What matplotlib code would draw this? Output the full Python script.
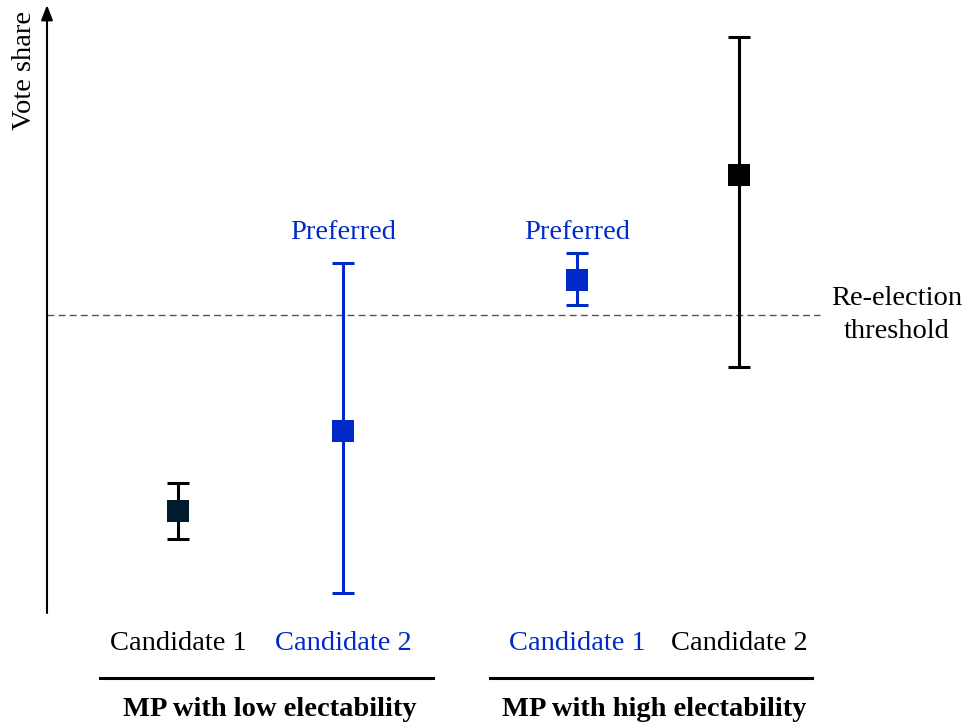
import matplotlib
matplotlib.use("Agg")
import matplotlib.pyplot as plt
from matplotlib.lines import Line2D

plt.rcParams['font.family'] = ['Liberation Serif', 'DejaVu Serif']

# Data (arbitrary vote-share units; threshold at 50)
positions = [1.0, 2.0, 3.42, 4.4]
candidates = ["Candidate 1", "Candidate 2", "Candidate 1", "Candidate 2"]
vote_share = [17.3, 30.7, 55.8, 73.4]
err_low = [4.6, 27.1, 4.2, 32.0]
err_high = [4.7, 28.0, 4.5, 22.9]
preferred = [False, True, True, False]
groups = ["MP with low electability", "MP with high electability"]
group_spans = [(0.527, 2.545), (2.891, 4.842)]
threshold = 50.0

BLUE = "#0029c8"
marker_colors = ["#001b2e", BLUE, BLUE, "black"]
bar_colors = ["black", BLUE, BLUE, "black"]
text_colors = ["black", BLUE, BLUE, "black"]

W, H = 967, 726
fig = plt.figure(figsize=(W / 100, H / 100), dpi=100)
ax = fig.add_axes([47 / W, (H - 613) / H, (W - 47) / W, (613 - 5) / H])
xmin, xmax = 0.206, 5.782
ymin, ymax = 0.33, 101.67
ax.set_xlim(xmin, xmax)
ax.set_ylim(ymin, ymax)
for s in ax.spines.values():
    s.set_visible(False)
ax.set_xticks([])
ax.set_yticks([])

# vertical axis with arrow head
ax.annotate("", xy=(xmin, ymax), xytext=(xmin, ymin),
            arrowprops=dict(arrowstyle="-|>,head_length=0.9,head_width=0.35",
                            color="black", lw=1.5, shrinkA=0, shrinkB=0),
            annotation_clip=False)

# threshold line
ax.hlines(threshold, xmin, 4.89, colors="#555555", linestyles=(0, (5, 3)), lw=1.0)
ax.text(5.358, threshold, "Re-election\nthreshold", ha="center", va="center",
        fontsize=20.5, linespacing=1.38)

fs = 20.5
for x, y, lo, hi, mc, bc, tc, name, pref in zip(positions, vote_share, err_low,
                                                err_high, marker_colors, bar_colors,
                                                text_colors, candidates, preferred):
    ax.errorbar([x], [y], yerr=[[lo], [hi]], fmt="none", ecolor=bc,
                elinewidth=2.2, capsize=8, capthick=2.2, zorder=2)
    ax.plot([x], [y], marker="s", linestyle="none", color=mc, markersize=15.5,
            markeredgewidth=0, zorder=3)
    ax.text(x, -4.7, name, ha="center", va="center", color=tc, fontsize=fs,
            clip_on=False)
    if pref:
        ax.text(x, 63.7, "Preferred", ha="center", va="center", color=BLUE,
                fontsize=fs)

for (x0, x1), g in zip(group_spans, groups):
    ax.add_line(Line2D([x0, x1], [-10.5, -10.5], color="black", lw=2.2,
                       clip_on=False))
    ax.text((x0 + x1) / 2 + 0.02, -15.8, g, ha="center", va="center",
            fontsize=fs, fontweight="bold", clip_on=False)

ax.text(0.072, 90.8, "Vote share", rotation=90, ha="center", va="center",
        fontsize=fs, clip_on=False)

fig.savefig("out.png", dpi=100)
